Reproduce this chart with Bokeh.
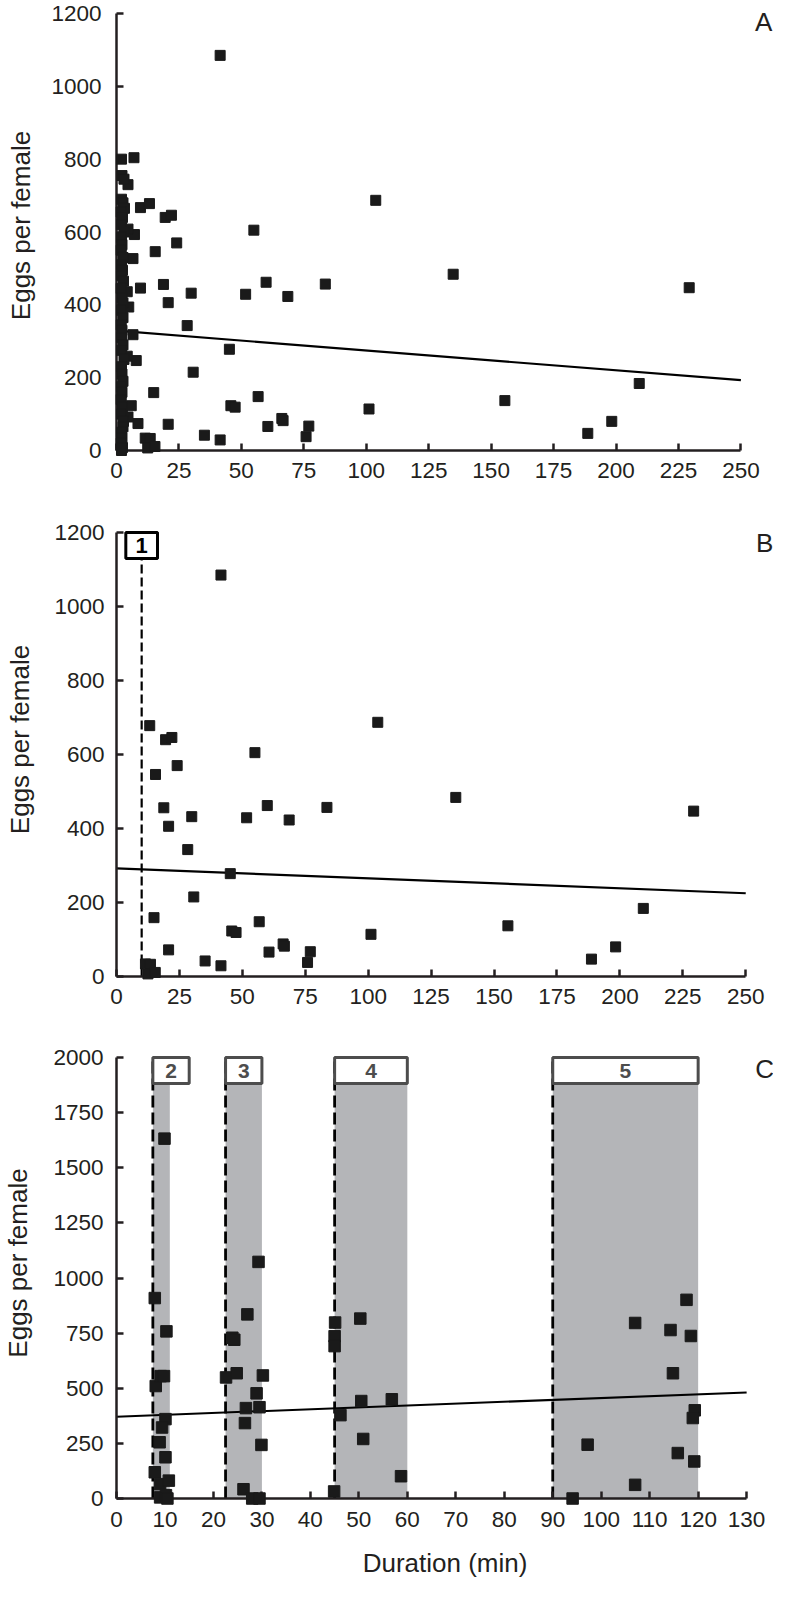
from bokeh.plotting import figure
from bokeh.models import Range1d, FixedTicker, Label, ColumnDataSource
from bokeh.layouts import column
from bokeh.embed import file_html
from bokeh.resources import INLINE
from bokeh.core.properties import value

# ---------------- data ----------------
# Panel A: all females (duration in min, eggs per female)
a_x = [41.5, 7.0, 9.6, 13.2, 19.5, 22.0, 103.8, 55.0, 7.2, 24.1, 15.5, 6.6, 18.8, 59.9, 83.6,
       9.6, 29.9, 51.7, 68.6, 20.7, 28.3, 6.6, 45.2, 7.9, 30.7, 14.9, 56.7, 5.9, 45.8, 47.5,
       101.1, 8.6, 20.7, 66.2, 66.7, 60.6, 77.0, 75.9, 35.2, 41.5, 11.5, 13.5, 12.5, 15.4,
       134.8, 229.3, 209.3, 155.5, 198.3, 188.7,
       4.6, 4.6, 4.3, 4.9, 4.3, 4.6,
       2.0, 2.2, 3.0, 2.0, 2.6, 3.2, 1.9, 2.4, 2.0, 3.0, 2.0, 2.2, 1.9, 2.6, 2.0, 2.4, 2.0,
       2.8, 1.9, 2.2, 2.6, 2.0, 2.6, 1.9, 2.2, 2.0, 2.6, 2.0, 3.0, 2.0, 2.2, 2.6, 2.0, 2.2,
       1.9, 2.4, 2.0, 2.8, 2.6, 2.0, 2.2, 1.9, 2.4, 2.0]
a_y = [1085, 804, 667, 678, 640, 646, 687, 605, 593, 570, 546, 527, 456, 462, 457,
       446, 432, 429, 423, 406, 343, 318, 278, 247, 215, 159, 148, 123, 123, 119,
       114, 74, 72, 88, 82, 66, 67, 38, 42, 29, 34, 33, 7, 11,
       484, 447, 184, 137, 80, 47,
       730, 608, 436, 394, 259, 92,
       800, 755, 745, 690, 680, 665, 655, 640, 620, 600, 585, 565, 550, 530, 510, 495, 480,
       465, 445, 420, 405, 385, 365, 345, 330, 310, 290, 275, 250, 230, 210, 190, 175, 160,
       140, 120, 100, 80, 65, 50, 35, 20, 8, 0]
a_fit_x = [0, 250]
a_fit_y = [329, 193]

# Panel B: females with duration above the threshold (period 1)
b_threshold = 10
b_fit_x = [0, 250]
b_fit_y = [292, 225]

# Panel C
c_x = [7.9, 9.9, 10.3, 8.1, 9.1, 9.8, 10.1, 9.4, 8.9, 10.1, 7.9, 9.0, 10.8, 9.0, 10.2, 10.5,
       29.3, 27.0, 23.9, 24.3, 22.6, 24.8, 30.2, 28.9, 26.7, 29.5, 26.5, 29.9, 26.2, 28.0, 29.5,
       45.1, 45.0, 45.0, 44.9, 50.3, 50.5, 46.2, 50.9, 56.8, 58.7,
       117.6, 107.0, 114.3, 118.5, 114.8, 119.3, 118.9, 97.2, 115.8, 119.2, 107.0, 94.1]
c_y = [909, 1632, 758, 510, 555, 555, 360, 322, 255, 187, 119, 65, 81, 5, 15, 0,
       1073, 835, 729, 720, 549, 568, 558, 477, 410, 414, 342, 243, 42, 0, 0,
       798, 736, 691, 32, 816, 442, 378, 270, 450, 101,
       901, 796, 764, 737, 568, 400, 365, 244, 206, 168, 62, 0]
c_fit_x = [0, 130]
c_fit_y = [371, 481]
c_period_labels = ["2", "3", "4", "5"]
c_period_start = [7.5, 22.5, 45, 90]
c_period_end = [15, 30, 60, 120]
c_shade_end = [11, 30, 60, 120]

ab_x_ticks = [0, 25, 50, 75, 100, 125, 150, 175, 200, 225, 250]
ab_y_ticks = [0, 200, 400, 600, 800, 1000, 1200]
c_x_ticks = [0, 10, 20, 30, 40, 50, 60, 70, 80, 90, 100, 110, 120, 130]
c_y_ticks = [0, 250, 500, 750, 1000, 1250, 1500, 1750, 2000]

# ---------------- styling ----------------
W = 773
FONT = "Liberation Sans"
TXT = "#231f20"
PT = "#1a1a1a"


def make_panel(height, left_px, xmax_px, xmax, y0_px, ytop_px, ymax,
               xticks, yticks, ytick_standoff, ylabel_standoff, xtick_standoff=12,
               xlabel=None, xlabel_standoff=10):
    sx = (xmax_px - left_px) / xmax
    sy = (y0_px - ytop_px) / ymax
    x_end = (W - left_px) / sx
    y_end = ymax + ytop_px / sy
    p = figure(width=W, height=height, x_range=Range1d(0, x_end), y_range=Range1d(0, y_end),
               min_border_left=left_px, min_border_right=0, min_border_top=0,
               min_border_bottom=int(height - y0_px),
               toolbar_location=None, output_backend="svg")
    p.outline_line_color = None
    p.grid.visible = False
    p.background_fill_color = "white"
    p.border_fill_color = "white"
    p.xaxis.bounds = (0, xmax)
    p.yaxis.bounds = (0, ymax)
    p.xaxis.ticker = FixedTicker(ticks=xticks)
    p.yaxis.ticker = FixedTicker(ticks=yticks)
    for ax in (p.xaxis[0], p.yaxis[0]):
        ax.axis_line_width = 2.5
        ax.axis_line_color = TXT
        ax.major_tick_line_width = 2.5
        ax.major_tick_line_color = TXT
        ax.major_tick_in = 7
        ax.major_tick_out = 0
        ax.minor_tick_line_color = None
        ax.major_label_text_font = FONT
        ax.major_label_text_font_size = "22.5px"
        ax.major_label_text_color = TXT
        ax.axis_label_text_font = FONT
        ax.axis_label_text_font_size = "26px"
        ax.axis_label_text_font_style = "normal"
        ax.axis_label_text_color = TXT
    p.xaxis.major_label_standoff = xtick_standoff
    p.yaxis.major_label_standoff = ytick_standoff
    p.yaxis.axis_label = "Eggs per female"
    p.yaxis.axis_label_standoff = ylabel_standoff
    if xlabel:
        p.xaxis.axis_label = xlabel
        p.xaxis.axis_label_standoff = xlabel_standoff
    conv = (lambda px: (px - left_px) / sx, lambda py: (y0_px - py) / sy, sx, sy)
    return p, conv


def letter(p, conv, text, px, py):
    p.add_layout(Label(x=conv[0](px), y=conv[1](py), text=text, text_font=FONT,
                       text_font_size="26px", text_color=TXT,
                       text_align="center", text_baseline="middle"))


# ---- Panel A ----
pA, cA = make_panel(502, 108, 740, 250, 450, 13, 1200, ab_x_ticks, ab_y_ticks, 15, 12)
pA.line(a_fit_x, a_fit_y, line_color="black", line_width=2.2)
pA.scatter(a_x, a_y, marker="square", size=10, color=PT, level="overlay")
letter(pA, cA, "A", 763, 21)

# ---- Panel B ----
b_x = [x for x in a_x if x > b_threshold]
b_y = [y for x, y in zip(a_x, a_y) if x > b_threshold]
pB, cB = make_panel(525, 110, 745, 250, 474, 30, 1200, ab_x_ticks, ab_y_ticks, 12, 16)
sxB, syB = cB[2], cB[3]
box_b_top = ab_y_ticks[-1]
box_b_bottom = box_b_top - 26 / syB
pB.segment(x0=[b_threshold], y0=[0], x1=[b_threshold], y1=[box_b_bottom],
           line_color="black", line_width=2.2, line_dash="9 4")
pB.line(b_fit_x, b_fit_y, line_color="black", line_width=2.2)
pB.scatter(b_x, b_y, marker="square", size=10, color=PT, level="overlay")
pB.quad(left=[b_threshold - 16 / sxB], right=[b_threshold + 16 / sxB],
        bottom=[box_b_bottom], top=[box_b_top],
        fill_color="white", line_color="black", line_width=3)
pB.text(x=[b_threshold], y=[(box_b_top + box_b_bottom) / 2], text=["1"],
        text_font=value(FONT), text_font_size="22px", text_font_style="bold",
        text_color="black", text_align="center", text_baseline="middle")
letter(pB, cB, "B", 764, 40)

# ---- Panel C ----
pC, cC = make_panel(557, 113, 746, 130, 471, 30, 2000, c_x_ticks, c_y_ticks, 13, 17,
                    xtick_standoff=13, xlabel="Duration (min)", xlabel_standoff=18)
sxC, syC = cC[2], cC[3]
box_top = c_y_ticks[-1]
box_bottom = box_top - 26 / syC
n = len(c_period_start)
pC.quad(left=c_period_start, right=c_shade_end, bottom=[0] * n, top=[box_bottom] * n,
        fill_color="#b4b5b8", line_color=None)
pC.segment(x0=c_period_start, y0=[0] * n, x1=c_period_start, y1=[box_top] * n,
           line_color="black", line_width=2.8, line_dash="12 5")
pC.line(c_fit_x, c_fit_y, line_color="black", line_width=2)
pC.scatter(c_x, c_y, marker="square", size=11.5, color=PT, level="overlay")
pC.quad(left=c_period_start, right=c_period_end, bottom=[box_bottom] * n, top=[box_top] * n,
        fill_color="white", line_color="#4d4d4d", line_width=3)
src = ColumnDataSource(dict(x=[(s + e) / 2 for s, e in zip(c_period_start, c_period_end)],
                            y=[(box_top + box_bottom) / 2] * n, t=c_period_labels))
pC.text(x="x", y="y", text="t", source=src, text_font=value(FONT), text_font_size="21px",
        text_font_style="bold", text_color="#4d4d4d", text_align="center", text_baseline="middle")
letter(pC, cC, "C", 764, 41.5)

layout = column(pA, pB, pC, spacing=0)
open("out.html", "w").write(file_html(layout, INLINE))
